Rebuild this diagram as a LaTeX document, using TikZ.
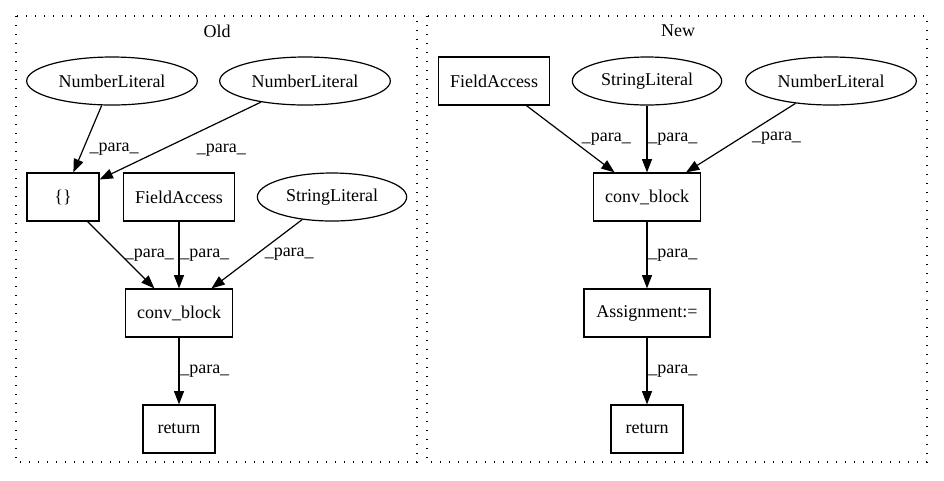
\documentclass[tikz,border=0pt]{standalone}
\usepackage{fontspec}
\setmainfont{Liberation Serif}
\usetikzlibrary{shapes.geometric,arrows.meta}
\tikzset{
	cluster/.style={draw, line width=1.1pt, dash pattern=on 1.1pt off 5.65pt},
	box/.style={draw, rectangle, line width=0.9pt, minimum height=36pt, inner sep=0pt},
	lit/.style={draw, ellipse, line width=0.9pt, minimum height=36pt, inner sep=0pt},
	para/.style={-{Triangle[length=10pt,width=7.5pt]}, line width=0.9pt},
	lbl/.style={anchor=west, inner sep=0.5pt}
}
\begin{document}
\begin{tikzpicture}[x=0.75pt, y=-0.75pt, every node/.style={font=\fontsize{13.5}{16}\selectfont}]
	\useasboundingbox (0,0) rectangle (944,480);
	\draw[cluster] (16,16) rectangle (417,462);
	\draw[cluster] (427,16) rectangle (927,462);
	\node (oldtitle) at (217,31) {Old};
	\node (newtitle) at (678,31) {New};
	\node[lit, minimum width=128pt] (oldnuma) at (112,81) {NumberLiteral};
	\node[lit, minimum width=128pt] (oldnumb) at (305,81) {NumberLiteral};
	\node[box, minimum width=54pt] (oldbrace) at (63,197) {\{\}};
	\node[box, minimum width=83pt] (oldfield) at (179,197) {FieldAccess};
	\node[lit, minimum width=112pt] (oldstr) at (332,197) {StringLiteral};
	\node[box, minimum width=80pt] (oldconv) at (179,313) {conv\_block};
	\node[box, minimum width=54pt] (oldret) at (179,429) {return};
	\node[box, minimum width=83pt] (newfield) at (494,81) {FieldAccess};
	\node[lit, minimum width=112pt] (newstr) at (647,81) {StringLiteral};
	\node[lit, minimum width=128pt] (newnum) at (831,81) {NumberLiteral};
	\node[box, minimum width=80pt] (newconv) at (647,197) {conv\_block};
	\node[box, minimum width=94.5pt] (newassign) at (647,313) {Assignment:=};
	\node[box, minimum width=54pt] (newret) at (647,429) {return};
	\draw[para] (oldnuma) -- (oldbrace) node[lbl, pos=0.66, xshift=4pt] {\_para\_};
	\draw[para] (oldnumb) -- (oldbrace) node[lbl, pos=0.62, xshift=26pt] {\_para\_};
	\draw[para] (oldbrace) -- (oldconv) node[lbl, pos=0.5, xshift=2pt] {\_para\_};
	\draw[para] (oldfield) -- (oldconv) node[lbl, pos=0.5] {\_para\_};
	\draw[para] (oldstr) -- (oldconv) node[lbl, pos=0.5, xshift=5pt] {\_para\_};
	\draw[para] (oldconv) -- (oldret) node[lbl, pos=0.5] {\_para\_};
	\draw[para] (newfield) -- (newconv) node[lbl, pos=0.5, xshift=7.5pt] {\_para\_};
	\draw[para] (newstr) -- (newconv) node[lbl, pos=0.5] {\_para\_};
	\draw[para] (newnum) -- (newconv) node[lbl, pos=0.5, xshift=7.5pt] {\_para\_};
	\draw[para] (newconv) -- (newassign) node[lbl, pos=0.5] {\_para\_};
	\draw[para] (newassign) -- (newret) node[lbl, pos=0.5] {\_para\_};
\end{tikzpicture}
\end{document}
